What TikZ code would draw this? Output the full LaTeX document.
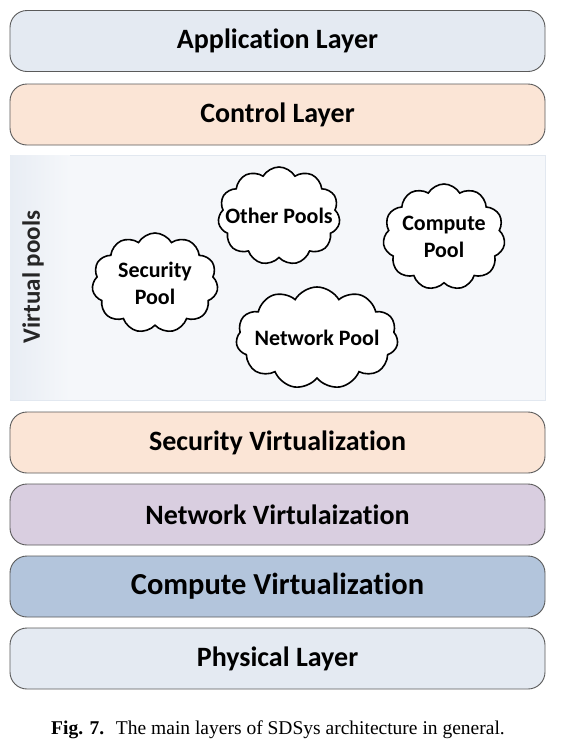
\documentclass[tikz,border=0pt]{standalone}
\usepackage{fontspec}
\setmainfont{Liberation Serif}
\newfontfamily\calib[Ligatures={NoCommon}]{Carlito}
\usetikzlibrary{shapes.symbols}
\definecolor{appblue}{HTML}{E4EAF2}
\definecolor{peach}{HTML}{FBE5D6}
\definecolor{lavender}{HTML}{D9CEE0}
\definecolor{steel}{HTML}{B3C5DC}
\definecolor{panelbg}{HTML}{F5F7FA}
\definecolor{panelstrip}{HTML}{E8EDF4}
\definecolor{panelline}{HTML}{E2E8F0}
\definecolor{layerline}{HTML}{5A5A5A}
\tikzset{
  layer/.style={draw=layerline, line width=0.9pt, rounded corners=17pt,
    minimum width=535pt, minimum height=61pt, inner sep=0pt,
    font=\calib\bfseries\fontsize{28}{32}\selectfont, text=black},
  pool/.style={cloud, cloud puffs=11, cloud puff arc=120, draw=black,
    line width=1.6pt, fill=white, inner sep=0pt, cloud ignores aspect},
  pooltext/.style={align=center, inner sep=0pt,
    font=\calib\bfseries\fontsize{22}{27}\selectfont}
}
\begin{document}
\begin{tikzpicture}[x=1pt,y=-1pt]
\useasboundingbox (0,0) rectangle (576,753);
\fill[white] (0,0) rectangle (576,753);
% layers
\node[layer, fill=appblue] (app) at (277.5,41) {Application Layer};
\node[layer, fill=peach] (ctrl) at (277.5,114.5) {Control Layer};
% virtual pools panel
\node[draw=panelline, fill=panelbg, minimum width=535pt, minimum height=245pt, inner sep=0pt] (panel) at (277.5,277.5) {};
\shade[left color=panelstrip, right color=panelbg] ([shift={(0.5pt,-0.5pt)}]panel.north west) rectangle ([shift={(60pt,0.5pt)}]panel.south west);
\node[rotate=90, font=\calib\bfseries\fontsize{25}{29}\selectfont, text=black!85] (vp) at (33,277) {Virtual pools};
% clouds
\node[pool, minimum width=122pt, minimum height=98pt] (other) at (279,216) {};
\node[pooltext] (othert) at (other.center) {Other Pools};
\node[pool, minimum width=122pt, minimum height=106pt] (compute) at (444,237) {};
\node[pooltext] (computet) at (compute.center) {Compute\\Pool};
\node[pool, minimum width=126pt, minimum height=100pt] (security) at (155,283) {};
\node[pooltext] (securityt) at (security.center) {Security\\Pool};
\node[pool, minimum width=162pt, minimum height=102pt] (network) at (317,338) {};
\node[pooltext] (networkt) at (network.center) {Network Pool};
% lower layers
\node[layer, fill=peach] (secv) at (277.5,442.5) {Security Virtualization};
\node[layer, fill=lavender] (netv) at (277.5,514.5) {Network Virtulaization};
\node[layer, fill=steel, font=\calib\bfseries\fontsize{30.5}{34}\selectfont] (compv) at (277.5,586.5) {Compute Virtualization};
\node[layer, fill=appblue] (phys) at (277.5,658.5) {Physical Layer};
% caption
\node[font=\fontsize{19.5}{23}\selectfont] (cap) at (278,730) {\textbf{Fig. 7.}\hspace{0.6em}The main layers of SDSys architecture in general.};
\end{tikzpicture}
\end{document}
